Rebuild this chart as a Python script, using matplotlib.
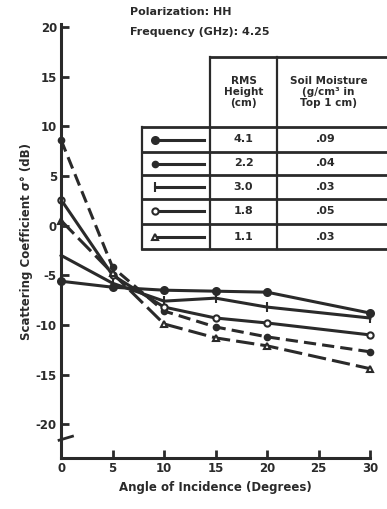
import matplotlib.pyplot as plt
from matplotlib.lines import Line2D

# values
angles = [0, 5, 10, 15, 20, 30]
sig_41 = [-5.6, -6.2, -6.5, -6.6, -6.7, -8.8]
sig_22 = [8.6, -4.2, -8.6, -10.2, -11.2, -12.7]
sig_30 = [-3.0, -5.8, -7.6, -7.3, -8.2, -9.3]
sig_18 = [2.6, -5.0, -8.2, -9.3, -9.8, -11.0]
sig_11 = [0.5, -4.8, -9.9, -11.3, -12.1, -14.4]

rms_height = ['4.1', '2.2', '3.0', '1.8', '1.1']
soil_moist = ['.09', '.04', '.03', '.05', '.03']

yticks = [-20, -15, -10, -5, 0, 5, 10, 15, 20]
xticks = [0, 5, 10, 15, 20, 25, 30]

ink = '#2a2a2a'
plt.rcParams['font.family'] = 'DejaVu Sans'
plt.rcParams['font.weight'] = 'bold'

fig = plt.figure(figsize=(3.87, 5.09), dpi=100)
ax = fig.add_axes([0.158, 0.100, 0.798, 0.853])

styles = [
    (sig_41, dict(ls='-', marker='o', mfc=ink, ms=5)),
    (sig_22, dict(ls=(0, (4, 2)), marker='o', mfc=ink, ms=4)),
    (sig_30, dict(ls='-', marker='|', mfc=ink, ms=7)),
    (sig_18, dict(ls='-', marker='o', mfc='white', ms=4.5)),
    (sig_11, dict(ls=(0, (6, 2)), marker='^', mfc='white', ms=4.5)),
]
for vals, st in styles:
    ax.plot(angles, vals, color=ink, lw=2.2, mec=ink, mew=1.5, clip_on=False, **st)

ax.set_xlim(0, 30)
ax.set_ylim(-23.4, 20.3)
ax.set_xticks(xticks)
ax.set_yticks(yticks)
ax.set_yticklabels([str(t) for t in yticks])
ax.spines['top'].set_visible(False)
ax.spines['right'].set_visible(False)
for s in ['left', 'bottom']:
    ax.spines[s].set_linewidth(2.2)
    ax.spines[s].set_color(ink)
ax.tick_params(direction='in', length=6, width=2, colors=ink, labelsize=8.5, pad=3)
ax.set_xlabel('Angle of Incidence (Degrees)', fontsize=8.5, fontweight='bold', color=ink)
ax.set_ylabel('Scattering Coefficient σ° (dB)', fontsize=8.5, fontweight='bold', color=ink, labelpad=2)

# axis break mark
ax.plot([-0.2, 1.1], [-21.6, -21.2], color=ink, lw=2, clip_on=False)

# header text
fig.text(130 / 387, 1 - 12 / 509, 'Polarization: HH', fontsize=8, fontweight='bold', color=ink, va='center')
fig.text(130 / 387, 1 - 32 / 509, 'Frequency (GHz): 4.25', fontsize=8, fontweight='bold', color=ink, va='center')


# legend table drawn in pixel coords
def px(x, y):
    return x / 387, 1 - y / 509


def hline(x0, x1, y):
    fig.add_artist(Line2D([x0 / 387, x1 / 387], [1 - y / 509, 1 - y / 509], color=ink, lw=2))


def vline(x, y0, y1):
    fig.add_artist(Line2D([x / 387, x / 387], [1 - y0 / 509, 1 - y1 / 509], color=ink, lw=1.6))


rows = [127, 152, 175, 199, 224, 249]
col_a, col_b, col_c, col_d = 142, 210, 277, 390
hline(col_b, col_d, 57)
vline(col_b, 57, rows[-1])
vline(col_c, 57, rows[-1])
vline(col_a, rows[0], rows[-1])
for r in rows:
    hline(col_a, col_d, r)

fig.text(*px((col_b + col_c) / 2, 92), 'RMS\nHeight\n(cm)', fontsize=7.5, fontweight='bold',
         color=ink, ha='center', va='center', linespacing=1.1)
fig.text(*px((col_c + col_d) / 2 - 5, 92), 'Soil Moisture\n(g/cm³ in\nTop 1 cm)', fontsize=7.5,
         fontweight='bold', color=ink, ha='center', va='center', linespacing=1.1)

for i, (h, m) in enumerate(zip(rms_height, soil_moist)):
    yc = (rows[i] + rows[i + 1]) / 2
    fig.text(*px((col_b + col_c) / 2, yc), h, fontsize=8, fontweight='bold', color=ink,
             ha='center', va='center')
    fig.text(*px((col_c + col_d) / 2 - 8, yc), m, fontsize=8, fontweight='bold', color=ink,
             ha='center', va='center')
    st = styles[i][1]
    fig.add_artist(Line2D([155 / 387, 204 / 387], [1 - yc / 509] * 2, color=ink, lw=2.2))
    fig.add_artist(Line2D([155 / 387], [1 - yc / 509], color=ink, marker=st['marker'],
                          mfc=st['mfc'], mec=ink, mew=1.5, ms=st['ms'], ls='none'))

fig.savefig('out.png', dpi=100)
